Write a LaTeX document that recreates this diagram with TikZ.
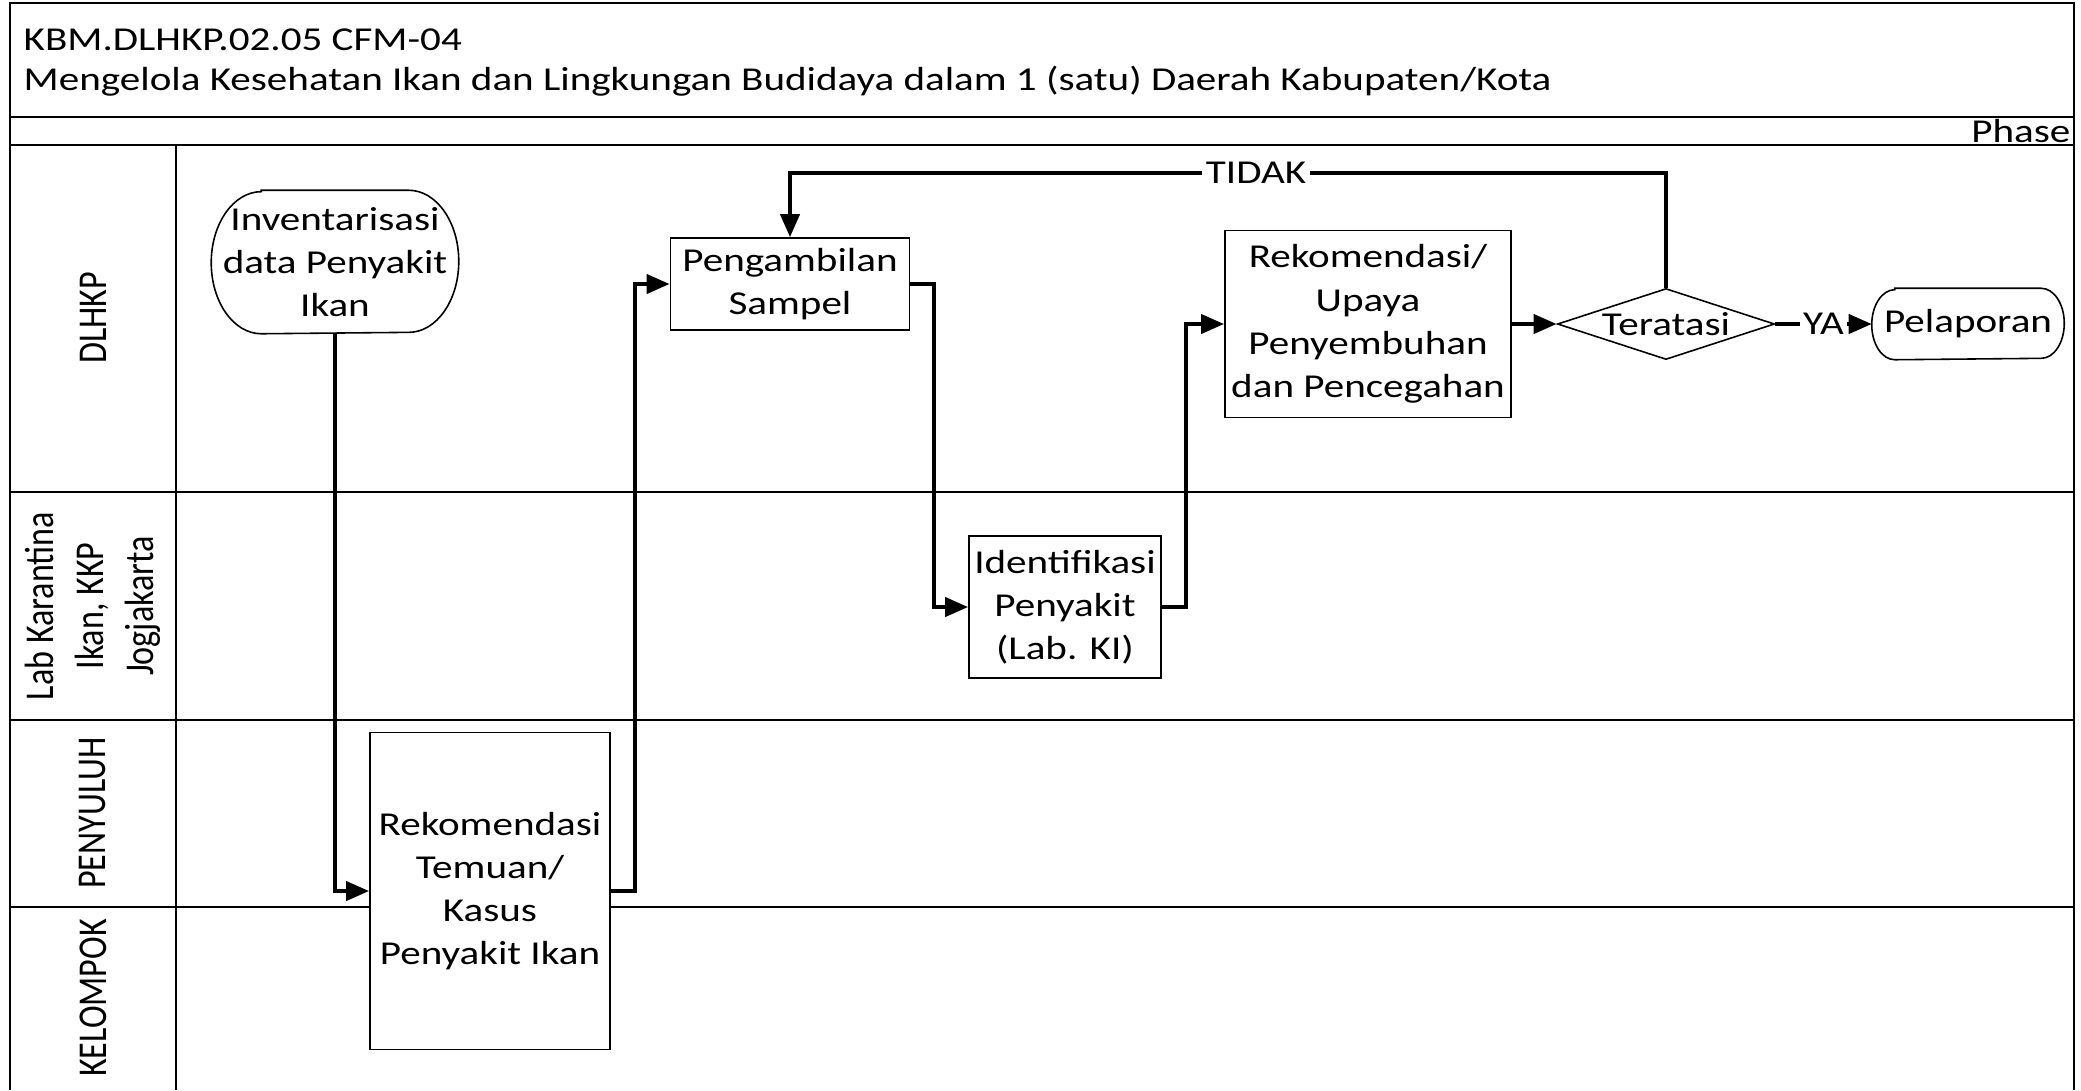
\documentclass[tikz,border=0pt]{standalone}
\usepackage{fontspec}
\setmainfont{Carlito}[FakeStretch=1.23]
\newfontfamily\lanefont{Carlito}
\usetikzlibrary{arrows.meta,shapes.geometric}

\tikzset{
  txt/.style={font=\fontsize{9.5}{12.3}\selectfont},
  lane/.style={line width=0.55pt},
  head/.style={txt, inner sep=0pt},
  box/.style={txt, draw, fill=white, line width=0.45pt, align=center, inner sep=0pt},
  term/.style={txt, align=center, inner sep=0pt},
  flow/.style={-{Triangle[length=2.3mm,width=1.9mm]}, line width=1.15pt},
  lbl/.style={txt, fill=white, inner sep=1pt},
  who/.style={rotate=90, yscale=1.2, align=center, font=\lanefont\fontsize{9.7}{11.8}\selectfont},
}

% outline of a start/end step: flat top and bottom, elliptic ends
\newcommand{\termline}[3]{%
  \draw[line width=0.45pt] ([xshift=#2]#1.north west) -- ([xshift=-#2]#1.north east)
    arc[start angle=90, end angle=-90, x radius=#2, y radius=#3]
    -- ([xshift=#2]#1.south west)
    arc[start angle=270, end angle=90, x radius=#2, y radius=#3] -- cycle;}

\begin{document}
\begin{tikzpicture}[x=0.01cm, y=-0.01cm]
	\useasboundingbox (0,0) rectangle (2081,1090);

	% frame, header rows and swimlanes
	\draw[lane] (10,1090) -- (10,3) -- (2074,3) -- (2074,1090);
	\draw[lane] (10,117) -- (2074,117);
	\draw[lane] (10,145) -- (2074,145);
	\draw[lane] (176,145) -- (176,1090);
	\foreach \y in {492,720,907}
		\draw[lane] (10,\y) -- (2074,\y);

	\node[head, anchor=base west] (code) at (23,50) {KBM.DLHKP.02.05 CFM-04};
	\node[head, anchor=base west] (title) at (23,90) {Mengelola Kesehatan Ikan dan Lingkungan Budidaya dalam 1 (satu) Daerah Kabupaten/Kota};
	\node[head, anchor=base east] (phase) at (2071,142) {Phase};

	\node[who] (dlhkp) at (93,318) {DLHKP};
	\node[who] (lab) at (93,606) {Lab Karantina\\Ikan, KKP\\Jogjakarta};
	\node[who] (penyuluh) at (93,813) {PENYULUH};
	\node[who] (kelompok) at (93,998) {KELOMPOK};

	% steps
	\node[term, minimum width=2.46cm, minimum height=1.42cm] (inv) at (335,262) {Inventarisasi\\data Penyakit\\Ikan};
	\node[box, minimum width=2.40cm, minimum height=3.17cm] (temuan) at (490,891) {Rekomendasi\\Temuan/\\Kasus\\Penyakit Ikan};
	\node[box, minimum width=2.39cm, minimum height=0.92cm] (ambil) at (790,284) {Pengambilan\\Sampel};
	\node[box, minimum width=1.92cm, minimum height=1.42cm] (ident) at (1065,607) {Identifikasi\\Penyakit\\(Lab. KI)};
	\node[box, minimum width=2.86cm, minimum height=1.87cm] (upaya) at (1368,324) {Rekomendasi/\\Upaya\\Penyembuhan\\dan Pencegahan};
	\node[box, diamond, aspect=3.1, minimum width=2.17cm, minimum height=0.71cm] (cek) at (1666,324) {Teratasi};
	\node[term, minimum width=1.91cm, minimum height=0.70cm] (lapor) at (1968,324) {Pelaporan};
	\termline{inv}{0.5cm}{0.71cm}
	\termline{lapor}{0.23cm}{0.35cm}

	% flow
	\draw[flow] (inv.south) |- (temuan.west);
	\draw[flow] (temuan.east) -- ++(24,0) |- (ambil.west);
	\draw[flow] (ambil.east) -- ++(24,0) |- (ident.west);
	\draw[flow] (ident.east) -- ++(24,0) |- (upaya.west);
	\draw[flow] (upaya.east) -- (cek.west);
	\draw[flow] (cek.north) -- ++(0,-115) -| node[lbl, pos=0.234] {TIDAK} (ambil.north);
	\draw[flow] (cek.east) -- node[lbl] {YA} (lapor.west);
\end{tikzpicture}
\end{document}
